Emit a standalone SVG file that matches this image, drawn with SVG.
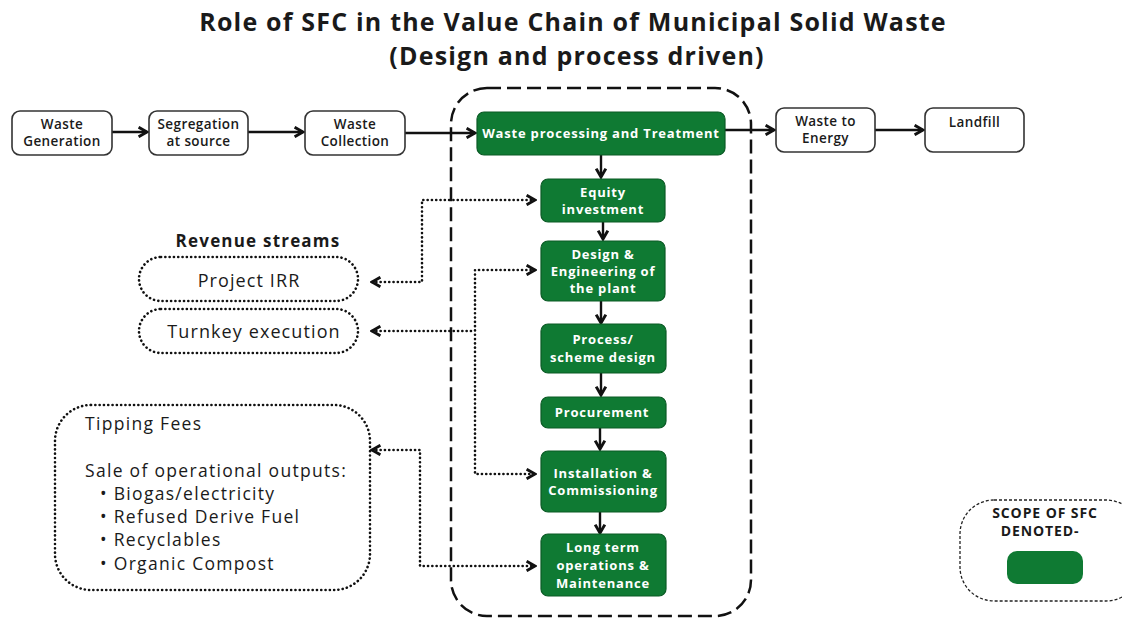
<svg xmlns="http://www.w3.org/2000/svg" width="1122" height="621" viewBox="0 0 1122 621">
<defs>
<style>
.t{font-family:"Open Sans","Liberation Sans",sans-serif;fill:#1a1a1a}
.title{font-size:25px;font-weight:700;text-anchor:middle;letter-spacing:1.2px}
.wb{fill:#fff;stroke:#333;stroke-width:1.6}
.wt{font-size:13.5px;text-anchor:middle;font-weight:600;letter-spacing:0.4px}
.gb{fill:#0f7a33;stroke:#0b5a25;stroke-width:1.2}
.gt{font-family:"Open Sans","Liberation Sans",sans-serif;font-size:13px;font-weight:700;fill:#fff;text-anchor:middle;letter-spacing:0.8px}
.solid{fill:none;stroke:#111;stroke-width:2.4}
.dot{fill:none;stroke:#111;stroke-width:2.6;stroke-dasharray:0.1 4.2;stroke-linecap:round}
.pill{fill:#fff;stroke:#111;stroke-width:2.6;stroke-dasharray:0.1 4.2;stroke-linecap:round}
.rv{font-size:18px;text-anchor:middle;letter-spacing:1.1px}
.tp{font-size:17.5px;letter-spacing:1.3px}
</style>
<marker id="ahs" viewBox="0 0 10 10" refX="8" refY="5" markerWidth="12" markerHeight="12" orient="auto-start-reverse" markerUnits="userSpaceOnUse">
<path d="M1,1 L8,5 L1,9" fill="none" stroke="#111" stroke-width="2.4"/>
</marker>
</defs>
<rect width="1122" height="621" fill="#fff"/>
<text class="t title" x="573" y="31">Role of SFC in the Value Chain of Municipal Solid Waste</text>
<text class="t title" x="577" y="65">(Design and process driven)</text>

<g id="scope-container">
<rect x="451" y="88" width="300" height="528" rx="36" fill="none" stroke="#111" stroke-width="2.5" stroke-dasharray="14 6"/>
</g>

<g id="connectors">
<path class="solid" d="M112,132 H147" marker-end="url(#ahs)"/>
<path class="solid" d="M248,132 H303" marker-end="url(#ahs)"/>
<path class="solid" d="M405,133 H475" marker-end="url(#ahs)"/>
<path class="solid" d="M725,130 H774" marker-end="url(#ahs)"/>
<path class="solid" d="M875,130 H923" marker-end="url(#ahs)"/>
<path class="solid" d="M601,155 V177" marker-end="url(#ahs)"/>
<path class="solid" d="M603,222 V239" marker-end="url(#ahs)"/>
<path class="solid" d="M601,301 V323" marker-end="url(#ahs)"/>
<path class="solid" d="M601,373 V395" marker-end="url(#ahs)"/>
<path class="solid" d="M600,428 V449" marker-end="url(#ahs)"/>
<path class="solid" d="M600,512 V533" marker-end="url(#ahs)"/>
<path class="dot" d="M372,282 H422 V200 H535" marker-start="url(#ahs)" marker-end="url(#ahs)"/>
<path class="dot" d="M535,270 H475 V474 H535" marker-start="url(#ahs)" marker-end="url(#ahs)"/>
<path class="dot" d="M372,331 H475"  marker-start="url(#ahs)"/>
<path class="dot" d="M372,450 H420 V566 H535" marker-start="url(#ahs)" marker-end="url(#ahs)"/>
</g>

<g id="waste-generation">
<rect class="wb" x="12" y="111" width="100" height="44" rx="8"/>
<text class="t wt" x="62" y="129">Waste</text>
<text class="t wt" x="62" y="146">Generation</text>
</g>
<g id="segregation">
<rect class="wb" x="149" y="111" width="99" height="44" rx="8"/>
<text class="t wt" x="198.5" y="129">Segregation</text>
<text class="t wt" x="198.5" y="146">at source</text>
</g>
<g id="waste-collection">
<rect class="wb" x="305" y="111" width="100" height="44" rx="8"/>
<text class="t wt" x="355" y="129">Waste</text>
<text class="t wt" x="355" y="146">Collection</text>
</g>
<g id="waste-to-energy">
<rect class="wb" x="776" y="108" width="99" height="44" rx="8"/>
<text class="t wt" x="825.5" y="126">Waste to</text>
<text class="t wt" x="825.5" y="143">Energy</text>
</g>
<g id="landfill">
<rect class="wb" x="925" y="108" width="99" height="44" rx="8"/>
<text class="t wt" x="974.5" y="127">Landfill</text>
</g>

<g id="waste-processing">
<rect class="gb" x="477" y="112" width="248" height="43" rx="7"/>
<text class="gt" x="601" y="138">Waste processing and Treatment</text>
</g>
<g id="equity">
<rect class="gb" x="541" y="179" width="124" height="43" rx="7"/>
<text class="gt" x="603" y="197">Equity</text>
<text class="gt" x="603" y="214">investment</text>
</g>
<g id="design-engineering">
<rect class="gb" x="541" y="241" width="124" height="60" rx="7"/>
<text class="gt" x="603" y="259">Design &amp;</text>
<text class="gt" x="603" y="276">Engineering of</text>
<text class="gt" x="603" y="293">the plant</text>
</g>
<g id="process-design">
<rect class="gb" x="541" y="324" width="125" height="49" rx="7"/>
<text class="gt" x="603" y="344">Process/</text>
<text class="gt" x="603" y="362">scheme design</text>
</g>
<g id="procurement">
<rect class="gb" x="541" y="397" width="125" height="31" rx="7"/>
<text class="gt" x="602" y="417">Procurement</text>
</g>
<g id="installation">
<rect class="gb" x="541" y="451" width="125" height="61" rx="7"/>
<text class="gt" x="603" y="478">Installation &amp;</text>
<text class="gt" x="603" y="495">Commissioning</text>
</g>
<g id="long-term">
<rect class="gb" x="541" y="534" width="125" height="62" rx="7"/>
<text class="gt" x="603" y="552">Long term</text>
<text class="gt" x="603" y="570">operations &amp;</text>
<text class="gt" x="603" y="588">Maintenance</text>
</g>

<g id="revenue-streams">
<text class="t" x="258" y="247" font-size="17" font-weight="700" text-anchor="middle" letter-spacing="1.2">Revenue streams</text>
</g>
<g id="project-irr">
<rect class="pill" x="139" y="257" width="219" height="44" rx="22"/>
<text class="t rv" x="249" y="287">Project IRR</text>
</g>
<g id="turnkey">
<rect class="pill" x="139" y="309" width="219" height="44" rx="22"/>
<text class="t rv" x="254" y="338">Turnkey execution</text>
</g>
<g id="tipping-fees">
<rect class="pill" x="55" y="405" width="315" height="185" rx="36"/>
<text class="t tp" x="85" y="430">Tipping Fees</text>
<text class="t tp" x="85" y="477">Sale of operational outputs:</text>
<text class="t tp" x="100" y="500">•  Biogas/electricity</text>
<text class="t tp" x="100" y="523">• Refused Derive Fuel</text>
<text class="t tp" x="100" y="546">• Recyclables</text>
<text class="t tp" x="100" y="570">• Organic Compost</text>
</g>

<g id="legend">
<rect x="960" y="500" width="180" height="101" rx="34" fill="#fff" stroke="#222" stroke-width="1.3" stroke-dasharray="3 2"/>
<text class="t" x="1045" y="518" font-size="14" font-weight="700" text-anchor="middle" letter-spacing="0.9">SCOPE OF SFC</text>
<text class="t" x="1040" y="536" font-size="14" font-weight="700" text-anchor="middle" letter-spacing="0.9">DENOTED-</text>
<rect x="1007" y="551" width="76" height="33" rx="10" fill="#0f7a33"/>
</g>
</svg>
